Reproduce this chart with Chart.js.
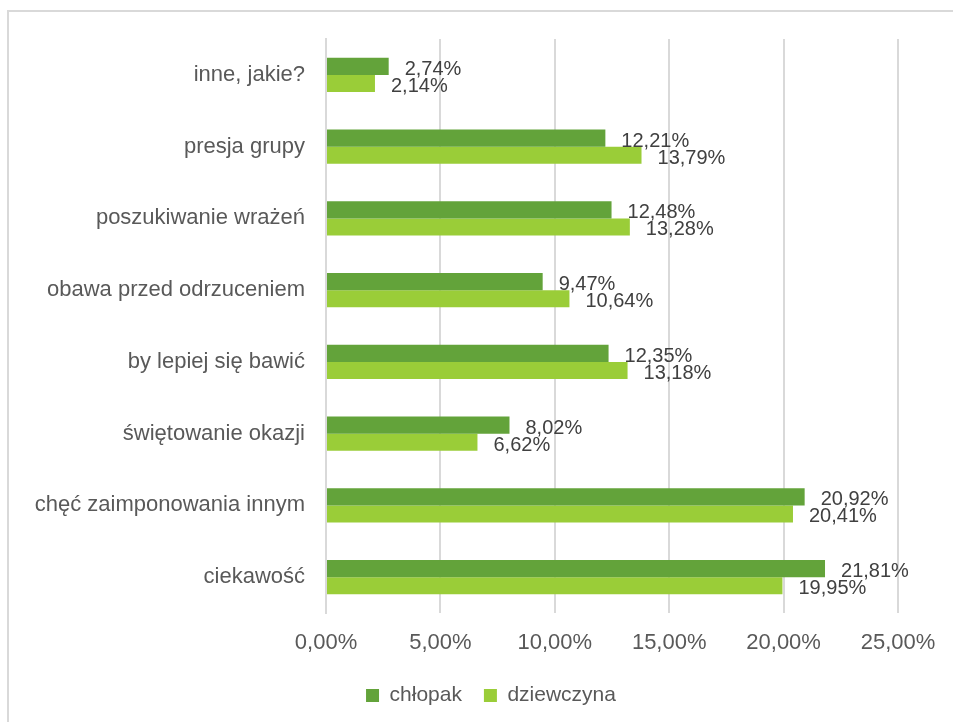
<!DOCTYPE html>
<html>
<head>
<meta charset="utf-8">
<script src="https://cdn.jsdelivr.net/npm/chart.js@4/dist/chart.umd.min.js"></script>
<style>
    body{margin:0;background:#fff;overflow:hidden;}
    #ramka{position:absolute;left:7px;top:10px;width:980px;height:740px;border-top:2px solid #d9d9d9;border-left:2px solid #d9d9d9;}
    #graf{position:absolute;left:0;top:0;}
</style>
</head>
<body>
<div id="ramka"></div>
<canvas id="graf" width="953" height="722"></canvas>
<script>
const kategorie = ['inne, jakie?','presja grupy','poszukiwanie wrażeń','obawa przed odrzuceniem',
    'by lepiej się bawić','świętowanie okazji','chęć zaimponowania innym','ciekawość'];
const chlopak = [2.74,12.21,12.48,9.47,12.35,8.02,20.92,21.81];
const dziewczyna = [2.14,13.79,13.28,10.64,13.18,6.62,20.41,19.95];
const osX = [0,5,10,15,20,25];

const COR = {ciemny:'#63a33a', jasny:'#9acd38', tekst:'#595959', siatka:'#d9d9d9'};
const FONTE = 'Liberation Sans';

function procent(v){
    return v.toFixed(2).replace('.',',') + '%';
}

// etykiety przy słupkach
const etykiety = {
    id:'etykiety',
    afterDatasetsDraw(chart){
        let ctx = chart.ctx;
        ctx.save();
        ctx.font = '20px "' + FONTE + '"';
        ctx.fillStyle = '#404040';
        ctx.textBaseline = 'middle';
        ctx.textAlign = 'left';
        chart.data.datasets.forEach((ds, i) => {
            let meta = chart.getDatasetMeta(i);
            meta.data.forEach((bar, j) => {
                ctx.fillText(procent(ds.data[j]), bar.x + 16, bar.y + 3);
            });
        });
        ctx.restore();
    }
};

// legenda wyśrodkowana nad obszarem wykresu, nie nad całym płótnem
const przesunLegende = {
    id:'przesunLegende',
    afterLayout(chart){
        if(chart.legend){
            chart.legend.left += 84;
        }
    }
};

function chartPowody(){
    let ctx = document.getElementById('graf');
    let config = {
        type: 'bar',
        data: {
            labels: kategorie,
            datasets: [{
                label: 'chłopak',
                data: chlopak,
                backgroundColor: COR.ciemny,
                categoryPercentage: 0.475,
                barPercentage: 1.0
            },
            {
                label: 'dziewczyna',
                data: dziewczyna,
                backgroundColor: COR.jasny,
                categoryPercentage: 0.475,
                barPercentage: 1.0
            }]
        },
        options: {
            indexAxis: 'y',
            responsive: false,
            animation: false,
            layout: {
                padding: {left: 0, top: 39, right: 55, bottom: 6}
            },
            scales: {
                x: {
                    min: 0,
                    max: 25,
                    afterBuildTicks: (s) => { s.ticks = osX.map(v => ({value: v})); },
                    afterFit: (s) => { s.height = 50; },
                    grid: {color: COR.siatka, lineWidth: 2, drawTicks: false},
                    border: {display: false},
                    ticks: {
                        padding: 17,
                        color: COR.tekst,
                        font: {family: FONTE, size: 22}
                    }
                },
                y: {
                    afterFit: (s) => { s.width = 326; },
                    grid: {display: false, drawTicks: false},
                    border: {display: true, color: COR.siatka, width: 2},
                    ticks: {
                        padding: 21,
                        color: COR.tekst,
                        font: {family: FONTE, size: 22}
                    }
                }
            },
            plugins: {
                legend: {
                    position: 'bottom',
                    labels: {
                        boxWidth: 13,
                        boxHeight: 13,
                        padding: 22,
                        color: COR.tekst,
                        font: {family: FONTE, size: 21}
                    }
                },
                tooltip: {enabled: false}
            }
        },
        plugins: [etykiety, przesunLegende]
    };
    // etykiety osi X w formacie 0,00%
    config.options.scales.x.ticks.callback = (v) => procent(v);
    new Chart(ctx, config);
}
chartPowody();
</script>
</body>
</html>
